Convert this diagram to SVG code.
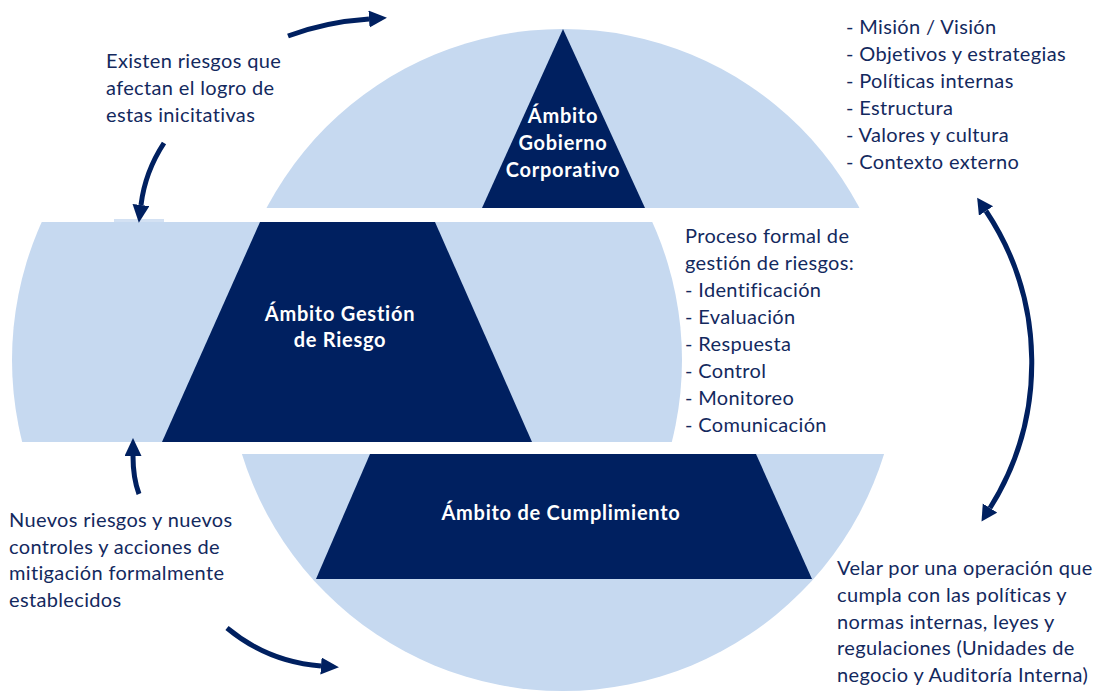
<svg xmlns="http://www.w3.org/2000/svg" width="1099" height="692" viewBox="0 0 1099 692">
  <style>
    .band { fill: #c6d9f0; }
    .tri { fill: #002060; }
    .lbl { font-family: Lato, "Open Sans", "Liberation Sans", sans-serif; font-weight: bold; font-size: 20px; letter-spacing: 0.75px; fill: #ffffff; text-anchor: middle; }
    .txt { font-family: Lato, "Open Sans", "Liberation Sans", sans-serif; font-size: 20px; letter-spacing: 0.35px; fill: #13295e; }
    .arr { fill: none; stroke: #002060; stroke-width: 5; }
  </style>
  <defs>
    <clipPath id="clipTop"><rect x="0" y="0" width="1099" height="208"/></clipPath>
    <clipPath id="clipMid"><rect x="0" y="222" width="1099" height="220"/></clipPath>
    <clipPath id="clipBot"><rect x="0" y="454" width="1099" height="238"/></clipPath>
    <marker id="head" markerUnits="userSpaceOnUse" markerWidth="20" markerHeight="20" refX="0" refY="8.5" orient="auto-start-reverse">
      <path d="M0,0 L18,8.5 L0,17 Z" fill="#002060"/>
    </marker>
    <marker id="head2" markerUnits="userSpaceOnUse" markerWidth="20" markerHeight="20" refX="0" refY="8.5" orient="auto-start-reverse">
      <path d="M0,0 L16,8.5 L0,17 Z" fill="#002060"/>
    </marker>
  </defs>

  <g id="node-gobierno">
    <circle class="band" cx="563" cy="364" r="335" clip-path="url(#clipTop)"/>
    <polygon class="tri" points="563,29 645,208 482,208"/>
    <text class="lbl" x="563" y="123">Ámbito</text>
    <text class="lbl" x="563" y="150">Gobierno</text>
    <text class="lbl" x="563" y="177">Corporativo</text>
  </g>

  <g id="node-riesgo">
    <circle class="band" cx="347" cy="360" r="335" clip-path="url(#clipMid)"/>
    <rect x="114" y="219" width="50" height="3" fill="#d3e1f3"/>
    <polygon class="tri" points="260,222 435,222 532,442 162,442"/>
    <text class="lbl" x="340" y="321">Ámbito Gestión</text>
    <text class="lbl" x="340" y="347">de Riesgo</text>
  </g>

  <g id="node-cumplimiento">
    <circle class="band" cx="563" cy="355" r="336" clip-path="url(#clipBot)"/>
    <polygon class="tri" points="370,454 756,454 812,579 316,579"/>
    <text class="lbl" x="561" y="520">Ámbito de Cumplimiento</text>
  </g>

  <g id="connectors">
    <path class="arr" d="M288,36 Q325,22 369,19" marker-end="url(#head)"/>
    <path class="arr" d="M164,143 Q145,172 141,205" marker-end="url(#head)"/>
    <path class="arr" d="M139,494 Q133,478 133,456" marker-end="url(#head)"/>
    <path class="arr" d="M227,628 Q268,662 321,666" marker-end="url(#head)"/>
    <path class="arr" d="M986,211 A274,274 0 0 1 990,508" marker-start="url(#head2)" marker-end="url(#head2)"/>
  </g>

  <g id="text-riesgos">
    <text class="txt" x="106" y="68">Existen riesgos que</text>
    <text class="txt" x="106" y="95">afectan el logro de</text>
    <text class="txt" x="106" y="122">estas inicitativas</text>
  </g>

  <g id="text-gobierno">
    <text class="txt" x="846" y="34">- Misión / Visión</text>
    <text class="txt" x="846" y="61">- Objetivos y estrategias</text>
    <text class="txt" x="846" y="88">- Políticas internas</text>
    <text class="txt" x="846" y="115">- Estructura</text>
    <text class="txt" x="846" y="142">- Valores y cultura</text>
    <text class="txt" x="846" y="169">- Contexto externo</text>
  </g>

  <g id="text-proceso">
    <text class="txt" x="685" y="243">Proceso formal de</text>
    <text class="txt" x="685" y="270">gestión de riesgos:</text>
    <text class="txt" x="685" y="297">- Identificación</text>
    <text class="txt" x="685" y="324">- Evaluación</text>
    <text class="txt" x="685" y="351">- Respuesta</text>
    <text class="txt" x="685" y="378">- Control</text>
    <text class="txt" x="685" y="405">- Monitoreo</text>
    <text class="txt" x="685" y="432">- Comunicación</text>
  </g>

  <g id="text-nuevos">
    <text class="txt" x="9" y="527">Nuevos riesgos y nuevos</text>
    <text class="txt" x="9" y="554">controles y acciones de</text>
    <text class="txt" x="9" y="580">mitigación formalmente</text>
    <text class="txt" x="9" y="607">establecidos</text>
  </g>

  <g id="text-cumplimiento">
    <text class="txt" x="837" y="575">Velar por una operación que</text>
    <text class="txt" x="837" y="602">cumpla con las políticas y</text>
    <text class="txt" x="837" y="629">normas internas, leyes y</text>
    <text class="txt" x="837" y="655">regulaciones (Unidades de</text>
    <text class="txt" x="837" y="682">negocio y Auditoría Interna)</text>
  </g>
</svg>
